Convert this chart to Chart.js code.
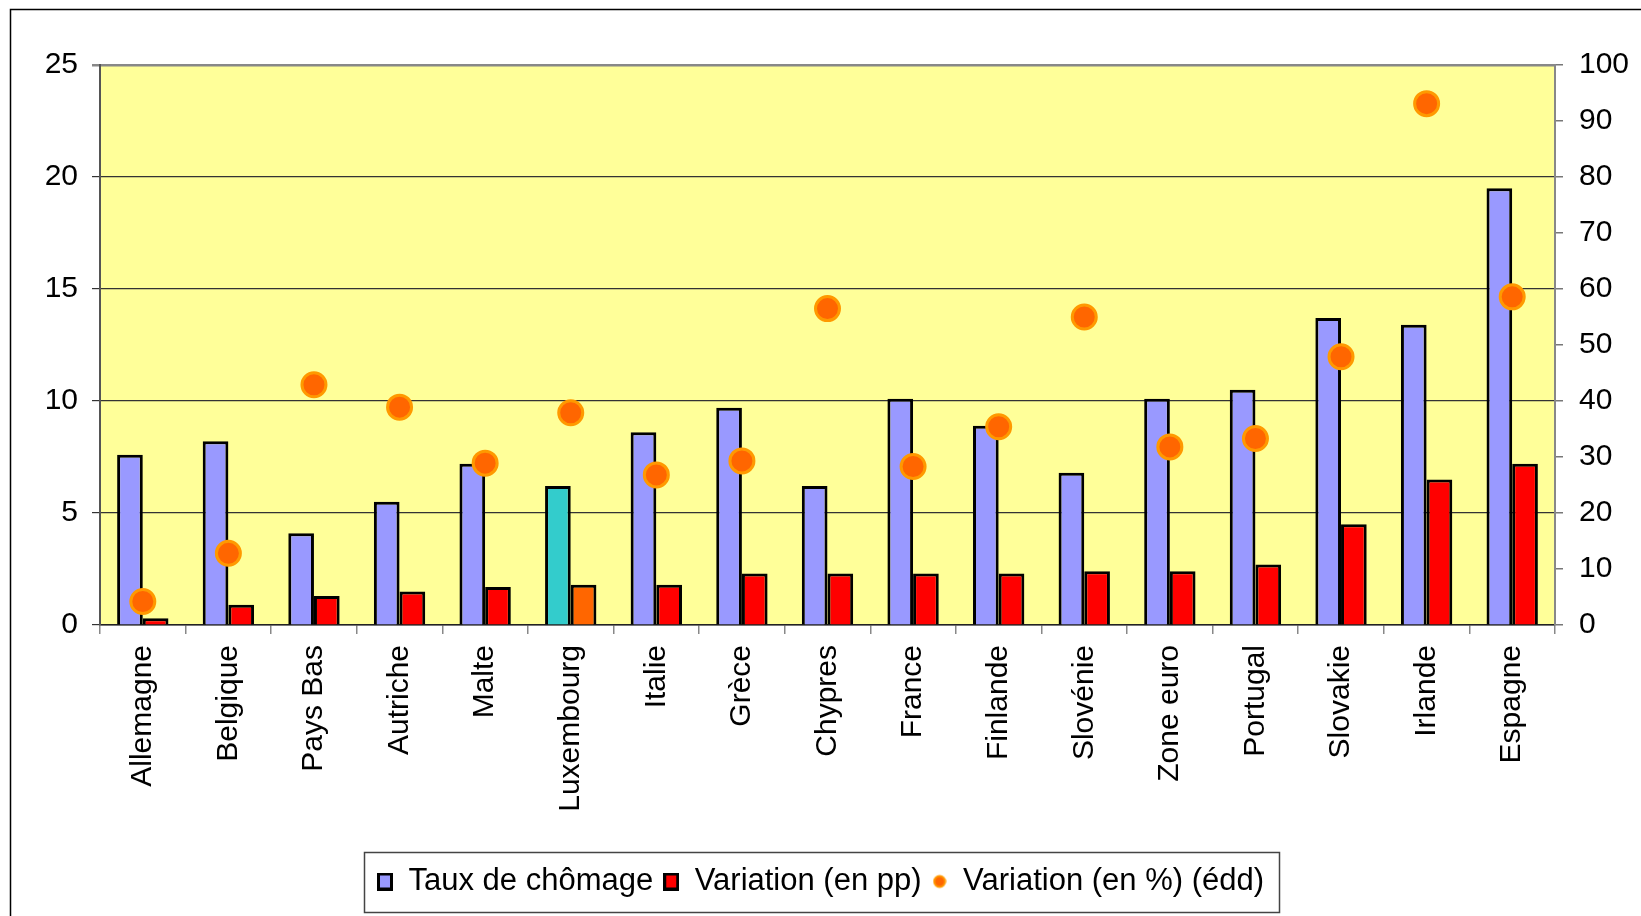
<!DOCTYPE html>
<html>
<head>
<meta charset="utf-8">
<script src="https://cdn.jsdelivr.net/npm/chart.js@4.4.0/dist/chart.umd.min.js"></script>
<style>
  html, body { margin: 0; padding: 0; background: #fff; }
  #wrap { width: 1641px; height: 916px; }
</style>
</head>
<body>
<div id="wrap"><canvas id="chart" width="1641" height="916"></canvas></div>
<script>
const categories = ['Allemagne', 'Belgique', 'Pays Bas', 'Autriche', 'Malte', 'Luxembourg', 'Italie', 'Grèce',
  'Chypres', 'France', 'Finlande', 'Slovénie', 'Zone euro', 'Portugal', 'Slovakie', 'Irlande', 'Espagne'];
const tauxChomage = [7.6, 8.2, 4.1, 5.5, 7.2, 6.2, 8.6, 9.7, 6.2, 10.1, 8.9, 6.8, 10.1, 10.5, 13.7, 13.4, 19.5];
const variationPP = [0.3, 0.9, 1.3, 1.5, 1.7, 1.8, 1.8, 2.3, 2.3, 2.3, 2.3, 2.4, 2.4, 2.7, 4.5, 6.5, 7.2];
const variationPct = [4.2, 12.8, 42.9, 38.9, 28.9, 37.9, 26.8, 29.3, 56.5, 28.3, 35.4, 55.0, 31.8, 33.3, 47.9, 93.1, 58.6];
const seriesLabels = ['Taux de chômage', 'Variation (en pp)', 'Variation (en %) (édd)'];
const leftTicks = { min: 0, max: 25, step: 5 };
const rightTicks = { min: 0, max: 100, step: 10 };
const highlight = 'Luxembourg';

const FONT = { family: '"Liberation Sans", Arial, sans-serif', size: 30 };

// small canvases used as legend symbols
function marker(w, h, draw) {
  const c = document.createElement('canvas');
  c.width = w; c.height = h;
  draw(c.getContext('2d'));
  return c;
}
const squareMarker = color => marker(16, 18, g => {
  g.fillStyle = color; g.fillRect(0, 0, 16, 18);
  g.strokeStyle = '#000'; g.lineWidth = 3; g.strokeRect(1.5, 1.5, 13, 15);
});
const legendMarkers = [
  squareMarker('#9999FF'),
  squareMarker('#FF0000'),
  marker(14, 16, g => {
    g.beginPath(); g.arc(7, 8, 5.5, 0, Math.PI * 2);
    g.fillStyle = '#FF6600'; g.fill();
    g.strokeStyle = '#FF9900'; g.lineWidth = 2; g.stroke();
  })
];

const decor = {
  id: 'decor',
  beforeDraw(chart) {
    const { ctx, chartArea: a } = chart;
    ctx.save();
    ctx.fillStyle = '#fff';
    ctx.fillRect(0, 0, chart.width, chart.height);
    ctx.strokeStyle = '#000';
    ctx.lineWidth = 1.5;
    ctx.strokeRect(10.5, 9.5, chart.width + 40, chart.height + 40);
    ctx.fillStyle = '#FFFF99';
    ctx.fillRect(a.left, a.top, a.right - a.left, a.bottom - a.top);
    ctx.restore();
  },
  afterDraw(chart) {
    const boxes = chart.legend.legendHitBoxes;
    if (!boxes || !boxes.length) return;
    const left = Math.min(...boxes.map(b => b.left)) - 13;
    const right = Math.max(...boxes.map(b => b.left + b.width)) + 15;
    const mid = boxes[0].top + boxes[0].height / 2;
    const { ctx } = chart;
    ctx.save();
    ctx.strokeStyle = '#444';
    ctx.lineWidth = 1.5;
    ctx.strokeRect(Math.round(left) + 0.5, Math.round(mid - 30) + 0.5, Math.round(right - left), 60);
    ctx.restore();
  }
};

new Chart(document.getElementById('chart'), {
  data: {
    labels: categories,
    datasets: [
      {
        type: 'bar',
        label: seriesLabels[0],
        data: tauxChomage,
        yAxisID: 'y',
        backgroundColor: categories.map(c => c === highlight ? '#33CCCC' : '#9999FF'),
        borderColor: '#000',
        borderWidth: 3,
        categoryPercentage: 0.6,
        barPercentage: 1.0,
        order: 1
      },
      {
        type: 'bar',
        label: seriesLabels[1],
        data: variationPP,
        yAxisID: 'y',
        backgroundColor: categories.map(c => c === highlight ? '#FF6600' : '#FF0000'),
        borderColor: '#000',
        borderWidth: 3,
        categoryPercentage: 0.6,
        barPercentage: 1.0,
        order: 1
      },
      {
        type: 'line',
        label: seriesLabels[2],
        data: variationPct,
        yAxisID: 'y2',
        showLine: false,
        pointRadius: 12,
        pointBorderWidth: 3,
        pointBackgroundColor: '#FF6600',
        pointBorderColor: '#FF9900',
        order: 0
      }
    ]
  },
  options: {
    responsive: false,
    animation: false,
    layout: { padding: { top: 65, left: 0, right: 0, bottom: 9 } },
    plugins: {
      tooltip: { enabled: false },
      legend: {
        position: 'bottom',
        labels: {
          usePointStyle: true,
          boxWidth: 16,
          boxHeight: 18,
          padding: 10,
          color: '#000',
          font: { family: FONT.family, size: 31 },
          generateLabels: chart => chart.data.datasets.map((ds, i) => ({
            text: ds.label,
            pointStyle: legendMarkers[i],
            datasetIndex: i,
            hidden: false,
            lineWidth: 0,
            fontColor: '#000'
          }))
        }
      }
    },
    scales: {
      x: {
        afterFit: s => { s.height = 231; },
        grid: { offset: true, drawOnChartArea: false, drawTicks: true, tickLength: 9, color: '#888', lineWidth: 1.5 },
        border: { color: '#222', width: 1.5 },
        ticks: { autoSkip: false, minRotation: 90, maxRotation: 90, padding: 11, color: '#000', font: FONT }
      },
      y: {
        position: 'left',
        min: leftTicks.min,
        max: leftTicks.max,
        afterFit: s => { s.width = 100; },
        ticks: { stepSize: leftTicks.step, padding: 14, color: '#000', font: FONT },
        grid: {
          tickLength: 8,
          color: c => c.tick && c.tick.value === leftTicks.max ? '#888' : '#333',
          lineWidth: c => c.tick && c.tick.value === leftTicks.max ? 2.5 : 1.2
        },
        border: { color: '#555', width: 2 }
      },
      y2: {
        position: 'right',
        min: rightTicks.min,
        max: rightTicks.max,
        afterFit: s => { s.width = 86; },
        ticks: { stepSize: rightTicks.step, padding: 16, color: '#000', font: FONT },
        grid: { drawOnChartArea: false, tickLength: 8, color: '#777', lineWidth: 1.5 },
        border: { color: '#888', width: 2 }
      }
    }
  },
  plugins: [decor]
});
</script>
</body>
</html>
